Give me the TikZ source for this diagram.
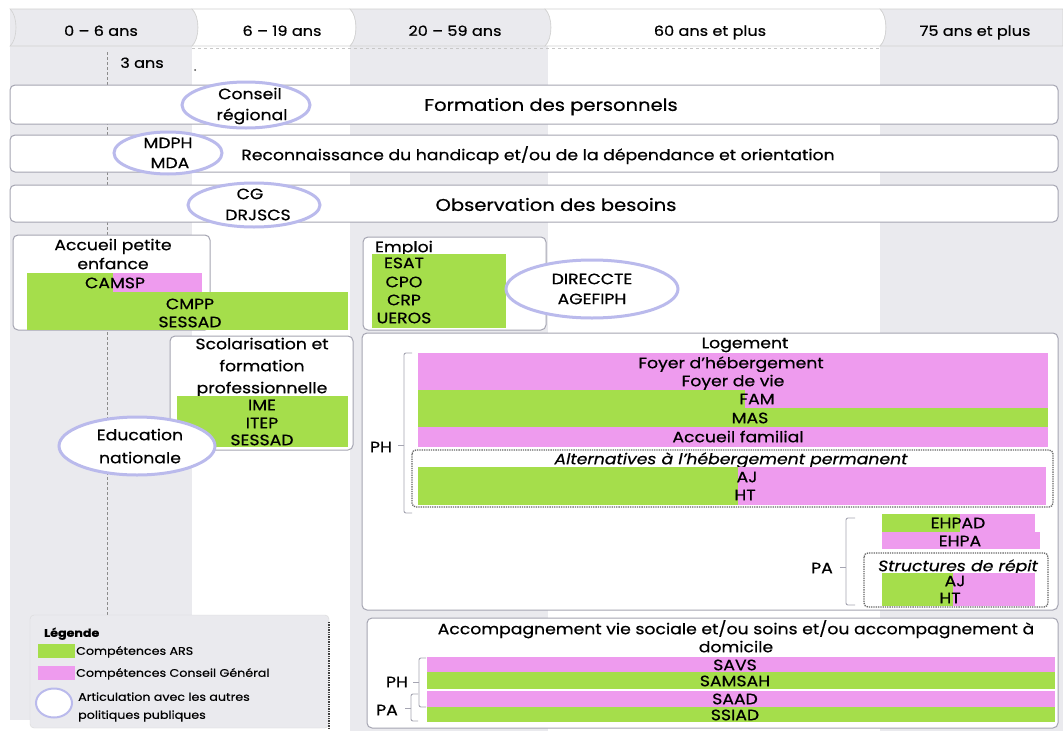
\documentclass[tikz,border=0pt]{standalone}
\usepackage{fontspec}
\setmainfont{Poppins}[FakeStretch=1.15, FakeBold=0.6]
\usetikzlibrary{shapes.geometric}
\definecolor{ars}{RGB}{165,222,75}
\definecolor{cgc}{RGB}{238,155,238}
\definecolor{colbg}{RGB}{234,234,238}
\definecolor{boxline}{RGB}{165,165,178}
\definecolor{ringc}{RGB}{186,186,236}
\begin{document}
\begin{tikzpicture}[x=1pt,y=-1pt,
  lbl/.style={font=\fontsize{15}{16}\selectfont, inner sep=0pt, text height=10.4pt, text depth=0pt},
  hlbl/.style={font=\fontsize{14}{15}\selectfont, inner sep=0pt, text height=9.7pt, text depth=0pt},
  ttl/.style={font=\fontsize{17}{18}\selectfont, inner sep=0pt, text height=11.8pt, text depth=0pt},
  sml/.style={font=\fontsize{11}{12}\selectfont, inner sep=0pt, text height=7.6pt, text depth=0pt, anchor=west},
  itl/.style={lbl, font=\fontsize{15}{16}\selectfont\itshape},
  bigbox/.style={draw=boxline, line width=1pt, fill=white, rounded corners=5pt},
  dbox/.style={draw=black!60, densely dotted, line width=1.3pt, rounded corners=4pt},
  ring/.style={ellipse, draw=ringc, line width=3pt, fill=white, inner sep=0pt},
  green/.style={fill=ars},
  pink/.style={fill=cgc},
  brace/.style={draw=boxline, line width=0.9pt, rounded corners=2pt},
  hdr/.style={draw=black!18, line width=0.6pt}
]
\useasboundingbox (0,0) rectangle (1063,731);
\fill[white] (0,0) rectangle (1063,731);
% column backgrounds
\fill[colbg] (10,9) rectangle (192,720);
\fill[colbg] (350,9) rectangle (548,731);
\fill[colbg] (880,9) rectangle (1063,731);
% header chevrons
\path[hdr, fill=colbg] (10,9) -- (192,9) .. controls (200,16) and (200,39) .. (192,46) -- (10,46) .. controls (18,39) and (18,16) .. (10,9) -- cycle;
\path[hdr, fill=white] (192,9) -- (350,9) .. controls (358,16) and (358,39) .. (350,46) -- (192,46) .. controls (200,39) and (200,16) .. (192,9) -- cycle;
\path[hdr, fill=colbg] (350,9) -- (545,9) .. controls (553,16) and (553,39) .. (545,46) -- (350,46) .. controls (358,39) and (358,16) .. (350,9) -- cycle;
\path[hdr, fill=white] (545,9) -- (880,9) .. controls (888,16) and (888,39) .. (880,46) -- (545,46) .. controls (553,39) and (553,16) .. (545,9) -- cycle;
\path[hdr, fill=colbg] (880,9) -- (1063,9) -- (1063,46) -- (880,46) .. controls (888,39) and (888,16) .. (880,9) -- cycle;
\draw[black!22, dashed, line width=0.6pt] (192,48) -- (880,48);
\node[hlbl] (h1) at (101,31) {0 – 6 ans};
\node[hlbl] (h2) at (282,31) {6 – 19 ans};
\node[hlbl] (h3) at (455,31) {20 – 59 ans};
\node[hlbl] (h4) at (710,31) {60 ans et plus};
\node[hlbl] (h5) at (975,31) {75 ans et plus};
% 3 ans marker
\coordinate (tick3top) at (107,52);
\coordinate (tick3bot) at (107,618);
\draw[black!45, densely dashed, line width=0.9pt] (tick3top) -- (tick3bot);
\node[hlbl] (trois) at (142,63) {3 ans};
\fill[black!70] (195,70) circle (1pt);
% row boxes
\path[bigbox] (10,85) rectangle (1058,124);
\node[ttl] (form) at (551,105) {Formation des personnels};
\node[ring, minimum width=128pt, minimum height=46pt] (cr) at (246,105) {};
\node[lbl] (cr1) at (250,94) {Conseil};
\node[lbl] (cr2) at (252,115) {régional};
\path[bigbox] (10,135) rectangle (1058,172);
\node[lbl] (reco) at (538,155) {Reconnaissance du handicap et/ou de la dépendance et orientation};
\node[ring, minimum width=108pt, minimum height=42pt] (mdph) at (168,153) {};
\node[lbl] (md1) at (168,143) {MDPH};
\node[lbl] (md2) at (170,163) {MDA};
\path[bigbox] (10,185) rectangle (1058,222);
\node[ttl] (obs) at (556,205) {Observation des besoins};
\node[ring, minimum width=132pt, minimum height=44pt] (cg) at (254,205) {};
\node[lbl] (cg1) at (250,194) {CG};
\node[lbl] (cg2) at (258,215) {DRJSCS};
% Accueil petite enfance
\path[bigbox] (13,235) rectangle (210,330);
\node[lbl] (ape1) at (113,245) {Accueil petite};
\node[lbl] (ape2) at (113,264) {enfance};
\fill[green] (27,273) rectangle (113,292);
\fill[pink] (113,273) rectangle (202,292);
\node[lbl] (camsp) at (115,283) {CAMSP};
\fill[green] (27,292) rectangle (348,330);
\node[lbl] (cmpp) at (190,304) {CMPP};
\node[lbl] (sess1) at (190,322) {SESSAD};
% Scolarisation
\path[bigbox] (170,336) rectangle (353,450);
\node[lbl] (sc1) at (262,344) {Scolarisation et};
\node[lbl] (sc2) at (262,366) {formation};
\node[lbl] (sc3) at (262,388) {professionnelle};
\fill[green] (177,396) rectangle (348,447);
\node[lbl] (ime) at (262,405) {IME};
\node[lbl] (itep) at (262,423) {ITEP};
\node[lbl] (sess2) at (262,440) {SESSAD};
\node[ring, minimum width=156pt, minimum height=58pt] (edu) at (137,446) {};
\node[lbl] (edu1) at (140,435) {Education};
\node[lbl] (edu2) at (140,458) {nationale};
% Emploi
\path[bigbox] (363,237) rectangle (546,330);
\node[lbl] (emp) at (404,247) {Emploi};
\fill[green] (372,254) rectangle (506,328);
\node[lbl] (esat) at (404,263) {ESAT};
\node[lbl] (cpo) at (404,282) {CPO};
\node[lbl] (crp) at (404,300) {CRP};
\node[lbl] (ueros) at (404,318) {UEROS};
\node[ring, minimum width=172pt, minimum height=58pt] (dir) at (592,289) {};
\node[lbl] (dir1) at (592,279) {DIRECCTE};
\node[lbl] (dir2) at (592,299) {AGEFIPH};
% Logement
\path[bigbox] (362,333) rectangle (1058,610);
\node[lbl] (loge) at (745,343) {Logement};
\fill[pink] (418,353) rectangle (1048,372);
\node[lbl] (fh) at (731,363) {Foyer d'hébergement};
\fill[pink] (418,372) rectangle (1048,390);
\node[lbl] (fv) at (733,381) {Foyer de vie};
\fill[green] (418,390) rectangle (745,408);
\fill[pink] (745,390) rectangle (1048,408);
\node[lbl] (fam) at (757,399) {FAM};
\fill[green] (418,408) rectangle (1048,427);
\node[lbl] (mas) at (750,418) {MAS};
\fill[pink] (418,427) rectangle (1048,447);
\node[lbl] (acf) at (738,437) {Accueil familial};
\path[dbox] (412,450) rectangle (1053,507);
\node[itl] (alt) at (731,459) {Alternatives à l'hébergement permanent};
\fill[green] (418,467) rectangle (738,487);
\fill[pink] (738,467) rectangle (1046,487);
\node[lbl] (aj1) at (747,477) {AJ};
\fill[green] (418,487) rectangle (738,505);
\fill[pink] (738,487) rectangle (1046,505);
\node[lbl] (ht1) at (745,495) {HT};
\draw[brace] (412,353) -- (404,353) -- (404,513) -- (412,513);
\draw[brace] (404,445) -- (398,445);
\node[lbl] (ph1) at (381,447) {PH};
% PA logement
\fill[green] (882,514) rectangle (960,532);
\fill[pink] (960,514) rectangle (1035,532);
\node[lbl] (ehpad) at (958,523) {EHPAD};
\fill[pink] (882,532) rectangle (1040,549);
\node[lbl] (ehpa) at (960,541) {EHPA};
\path[dbox] (864,553) rectangle (1048,607);
\node[itl] (rep) at (958,566) {Structures de répit};
\fill[green] (882,573) rectangle (953,590);
\fill[pink] (953,573) rectangle (1035,590);
\node[lbl] (aj2) at (955,581) {AJ};
\fill[green] (882,590) rectangle (953,606);
\fill[pink] (953,590) rectangle (1035,606);
\node[lbl] (ht2) at (950,598) {HT};
\draw[brace] (855,518) -- (846,518) -- (846,605) -- (855,605);
\draw[brace] (846,567) -- (840,567);
\node[lbl] (pa1) at (822,568) {PA};
% Accompagnement
\path[bigbox] (367,618) rectangle (1058,728);
\node[lbl] (acc1) at (736,629) {Accompagnement vie sociale et/ou soins et/ou accompagnement à};
\node[lbl] (acc2) at (736,647) {domicile};
\fill[pink] (427,657) rectangle (1055,672);
\node[lbl] (savs) at (735,665) {SAVS};
\fill[green] (427,672) rectangle (1055,689);
\node[lbl] (samsah) at (735,681) {SAMSAH};
\fill[pink] (427,691) rectangle (1055,707);
\node[lbl] (saad) at (735,699) {SAAD};
\fill[green] (427,707) rectangle (1055,722);
\node[lbl] (ssiad) at (735,715) {SSIAD};
\draw[brace] (426,658) -- (419,658) -- (419,707) -- (426,707);
\draw[brace] (419,682) -- (413,682);
\node[lbl] (ph2) at (397,682) {PH};
\draw[brace] (418,694) -- (411,694) -- (411,721) -- (418,721);
\draw[brace] (411,708) -- (405,708);
\node[lbl] (pa2) at (387,710) {PA};
% Legend
\path[fill=colbg, draw=black!15, rounded corners=4pt] (30,615) rectangle (329,728);
\draw[black!75, densely dotted, line width=1.4pt] (329,622) -- (329,728);
\node[sml, font=\fontsize{11}{12}\selectfont\bfseries] (leg) at (44,633) {Légende};
\fill[green] (38,644) rectangle (75,658);
\node[sml] (lars) at (76,651) {Compétences ARS};
\fill[pink] (38,666) rectangle (75,680);
\node[sml] (lcg) at (76,673) {Compétences Conseil Général};
\node[ring, line width=2pt, minimum width=36pt, minimum height=29pt] (lring) at (54,703) {};
\node[sml] (lart1) at (78,697) {Articulation avec les autres};
\node[sml] (lart2) at (78,715) {politiques publiques};
\end{tikzpicture}
\end{document}
